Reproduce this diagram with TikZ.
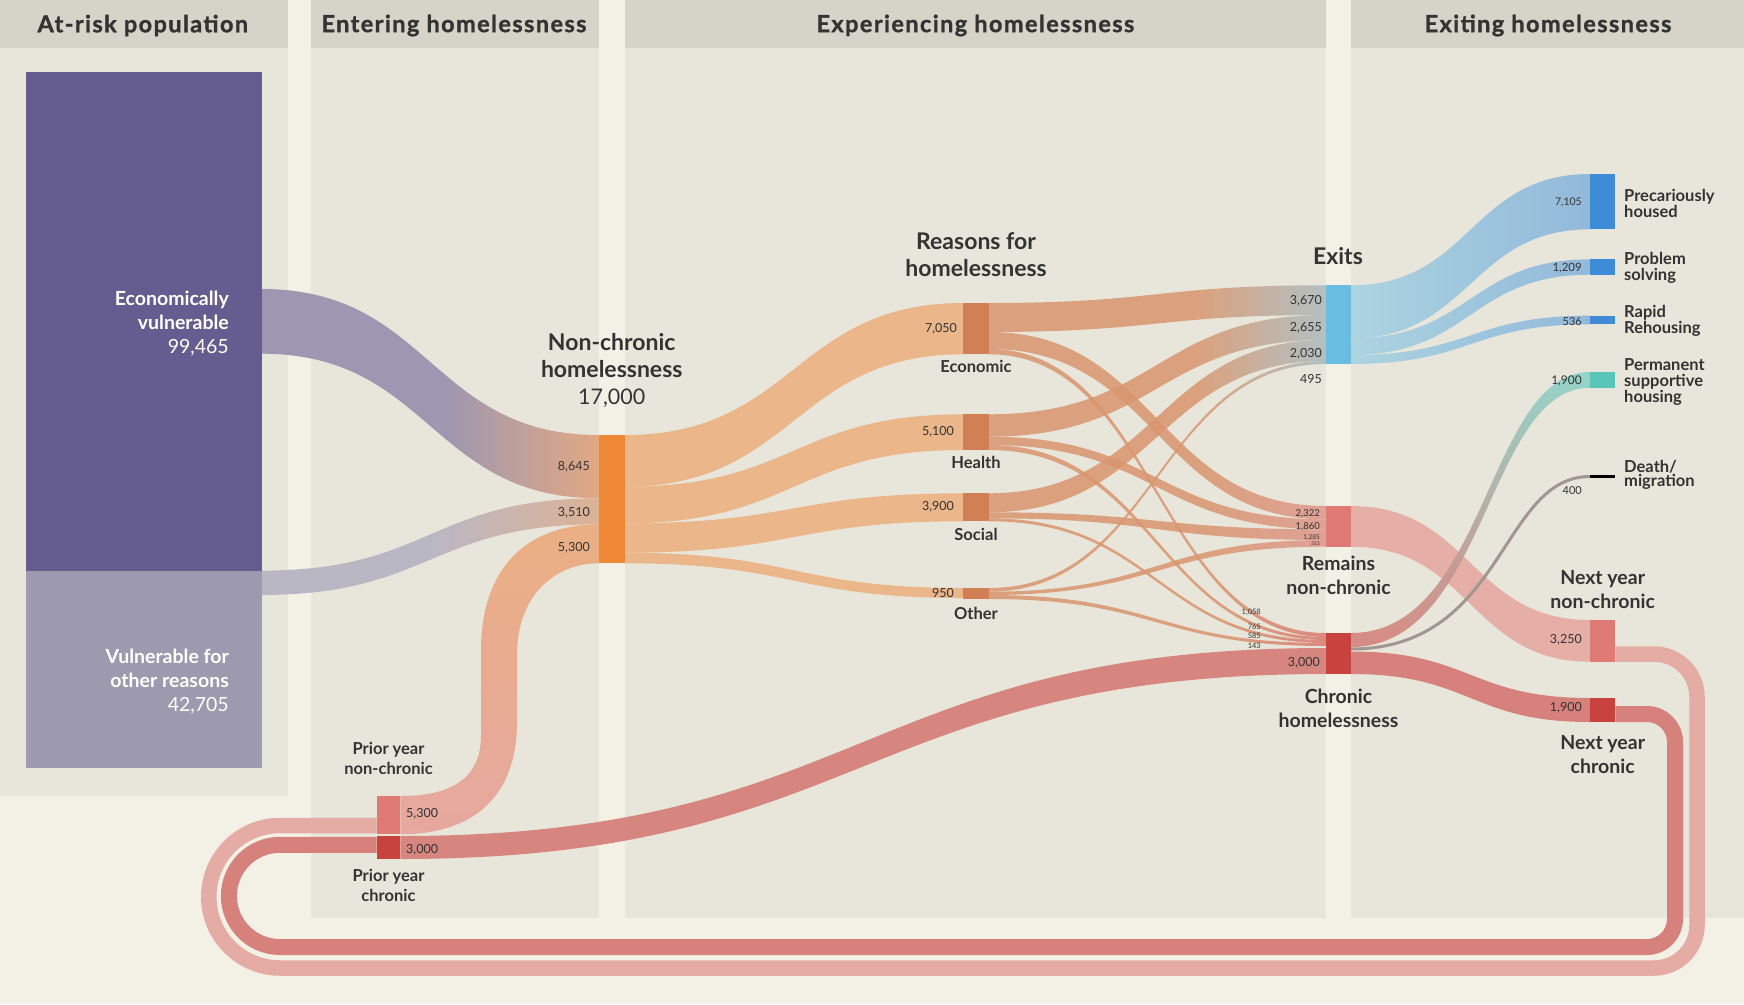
\documentclass[tikz,border=0pt]{standalone}
\usepackage{fontspec}
\setmainfont{Lato}
\newfontfamily\headfont[LetterSpace=6,BoldFeatures={FakeBold=1.2}]{Lato}
\usetikzlibrary{positioning}

\definecolor{cream}{HTML}{F3F1E6}
\definecolor{panelc}{HTML}{E8E6DA}
\definecolor{headc}{HTML}{D6D4C8}
\definecolor{txt}{HTML}{333333}
\definecolor{econbox}{HTML}{655D8F}
\definecolor{otherbox}{HTML}{9D9AAF}
\definecolor{vulflow}{HTML}{9D97B1}
\definecolor{vulend}{HTML}{E2A882}
\definecolor{othflow}{HTML}{BAB7C5}
\definecolor{othend}{HTML}{DCB294}
\definecolor{ncbar}{HTML}{EF8935}
\definecolor{ncflow}{HTML}{EAB68A}
\definecolor{priortop}{HTML}{EBAF84}
\definecolor{priorflow}{HTML}{E6A89F}
\definecolor{reasonbar}{HTML}{D17F55}
\definecolor{tanflow}{HTML}{D9966F}
\definecolor{exitgrey}{HTML}{A9BABE}
\definecolor{remainend}{HTML}{DF968B}
\definecolor{chronend}{HTML}{D97A71}
\definecolor{exitbar}{HTML}{69BDE0}
\definecolor{exitflowa}{HTML}{A9D3E1}
\definecolor{exitflowb}{HTML}{8EB7DB}
\definecolor{destbar}{HTML}{3E8BD8}
\definecolor{pshbar}{HTML}{5AC6B9}
\definecolor{pshflow}{HTML}{8CD3C7}
\definecolor{remainbar}{HTML}{DF7B74}
\definecolor{lightloop}{HTML}{E5A9A2}
\definecolor{chronbar}{HTML}{C8433E}
\definecolor{darkloop}{HTML}{D6817B}
\definecolor{deathline}{HTML}{A19692}

% colour change kept to the last part of a band
\pgfdeclarehorizontalshading{tanexit}{100bp}{color(0bp)=(tanflow); color(25bp)=(tanflow); color(56bp)=(tanflow); color(75bp)=(exitgrey); color(100bp)=(exitgrey)}
\pgfdeclarehorizontalshading{tanremain}{100bp}{color(0bp)=(tanflow); color(25bp)=(tanflow); color(58bp)=(tanflow); color(75bp)=(remainend); color(100bp)=(remainend)}
\pgfdeclarehorizontalshading{tanchron}{100bp}{color(0bp)=(tanflow); color(25bp)=(tanflow); color(58bp)=(tanflow); color(75bp)=(chronend); color(100bp)=(chronend)}
\pgfdeclarehorizontalshading{vulmix}{100bp}{color(0bp)=(vulflow); color(25bp)=(vulflow); color(52bp)=(vulflow); color(75bp)=(vulend); color(100bp)=(vulend)}
\pgfdeclarehorizontalshading{othmix}{100bp}{color(0bp)=(othflow); color(25bp)=(othflow); color(50bp)=(othflow); color(75bp)=(othend); color(100bp)=(othend)}

% band between two bars: [style]{x1}{top1}{bottom1}{x2}{top2}{bottom2}
\newcommand{\flowband}[7][]{%
  \path[#1] (#2,#3) .. controls ({(#2+#5)/2},#3) and ({(#2+#5)/2},#6) .. (#5,#6)
    -- (#5,#7) .. controls ({(#2+#5)/2},#7) and ({(#2+#5)/2},#4) .. (#2,#4) -- cycle;}

\begin{document}
\begin{tikzpicture}[x=1pt,y=-1pt,
  bar/.style={rectangle,inner sep=0pt,minimum width=25.4pt},
  numlbl/.style={text=txt,inner sep=0pt,font=\fontsize{12.5}{14}\selectfont},
  catlbl/.style={text=txt,inner sep=0pt,align=center,font=\bfseries\fontsize{16.5}{19.5}\selectfont},
  midlbl/.style={text=txt,inner sep=0pt,align=center,font=\bfseries\fontsize{19.5}{24}\selectfont},
  biglbl/.style={text=txt,inner sep=0pt,align=center,font=\fontsize{23}{27}\selectfont},
  sidelbl/.style={text=txt,inner sep=0pt,anchor=west,align=left,font=\bfseries\fontsize{16.5}{16}\selectfont},
  headlbl/.style={text=txt,inner sep=0pt,font=\headfont\bfseries\fontsize{23.5}{26}\selectfont},
  boxlbl/.style={text=white,inner sep=0pt,anchor=east,align=right,font=\fontsize{19.5}{24}\selectfont},
  toexit/.style={shade,shading=tanexit,fill opacity=0.85},
  toremain/.style={shade,shading=tanremain,fill opacity=0.85},
  tochron/.style={shade,shading=tanchron,fill opacity=0.85},
  exitband/.style={left color=exitflowa,right color=exitflowb,fill opacity=0.95}]

  \useasboundingbox (0,0) rectangle (1744,1004);
  \fill[cream] (0,0) rectangle (1744,1004);

  % Column panels and headers
  \foreach \xa/\xb/\yb in {0/288/796, 310.7/598.7/918, 625/1326/918, 1351/1744/918} {
    \fill[panelc] (\xa,48) rectangle (\xb,\yb);
    \fill[headc] (\xa,0) rectangle (\xb,48);
  }
  \foreach \x/\t [count=\i] in {142.8/At-risk population, 454/Entering homelessness, 975.4/Experiencing homelessness, 1548/Exiting homelessness}
    \node[headlbl] (head\i) at (\x,25.5) {\t};

  % Loops from next year back to prior year
  \draw[lightloop,line width=15.5pt,opacity=0.95] (1615.3,654) -- (1654,654) arc[start angle=-90,end angle=0,radius=43]
    -- (1697,925) arc[start angle=0,end angle=90,radius=43] -- (280,968)
    arc[start angle=90,end angle=270,radius=71.25] -- (376.7,825.5);
  \draw[darkloop,line width=16pt] (1615.3,714) -- (1647,714) arc[start angle=-90,end angle=0,radius=28]
    -- (1675,919) arc[start angle=0,end angle=90,radius=28] -- (280,947)
    arc[start angle=90,end angle=270,radius=51.1] -- (376.7,844.8);

  % Into non-chronic homelessness
  \flowband[shade,shading=vulmix]{261.5}{289}{353.7}{599}{435}{498.3}
  \flowband[shade,shading=othmix]{261.5}{570.6}{595}{599}{498.3}{524.3}
  \path[top color=priortop,bottom color=priorflow] (400.3,796) .. controls (455,796) and (481,776) .. (481,735)
    -- (481,650) .. controls (481,570) and (525,524.3) .. (599,524.3) -- (599,563.3)
    .. controls (555,563.3) and (517,595) .. (517,655) -- (517,722)
    .. controls (517,795) and (475,834.3) .. (400.3,834.3) -- cycle;

  % Prior year chronic into chronic homelessness
  \flowband[fill=darkloop,fill opacity=0.95]{400.3}{836}{859}{1326}{648}{674}

  % Non-chronic to reasons
  \foreach \ya/\yb/\yc/\yd in {435/486.7/303/354.3, 486.7/523.3/414.3/450, 523.3/552.7/493.3/521.3, 552.7/563.3/588/598}
    {\flowband[fill=ncflow]{625}{\ya}{\yb}{963.3}{\yc}{\yd}}

  % Reasons to exits, remains, chronic
  \foreach \ya/\yb/\yc/\yd in {303/332/285.3/315, 414.3/436.7/315/340, 493.3/512.3/340/361, 588/591.7/361/364}
    {\flowband[toexit]{988.7}{\ya}{\yb}{1326}{\yc}{\yd}}
  \foreach \ya/\yb/\yc/\yd in {332/349/506/519.3, 436.7/445/519.3/529.3, 512.3/518.3/529.3/540, 591.7/595/540/546.7}
    {\flowband[toremain]{988.7}{\ya}{\yb}{1326}{\yc}{\yd}}
  \foreach \ya/\yb/\yc/\yd in {349/354.3/633/637, 445/450/637/640, 518.3/521.3/640/643, 595/599/643/646}
    {\flowband[tochron]{988.7}{\ya}{\yb}{1326}{\yc}{\yd}}

  % Exits to destinations
  \foreach \ya/\yb/\yc/\yd in {285.3/338.3/174/229.3, 338.3/355/259.3/274.7, 355/364/315.7/324.3}
    {\flowband[exitband]{1351}{\ya}{\yb}{1590}{\yc}{\yd}}

  % Remains and chronic onwards
  \flowband[fill=lightloop,fill opacity=0.9]{1351}{506}{546.7}{1590}{620}{661.7}
  \path[top color=pshflow,bottom color=darkloop,fill opacity=0.9] (1351,633) .. controls (1487,633) and (1487,372) .. (1590,372)
    -- (1590,387.7) .. controls (1487,387.7) and (1487,647) .. (1351,647) -- cycle;
  \draw[deathline,line width=3pt] (1351,649) .. controls (1505,649) and (1500,476.5) .. (1590,476.5);
  \flowband[fill=darkloop]{1351}{651.5}{674}{1590}{698}{722}

  % Bars
  \node[bar,fill=econbox,minimum width=235.9pt,minimum height=498.3pt] (econvul) at (143.55,321.45) {};
  \node[bar,fill=otherbox,minimum width=235.9pt,minimum height=196.9pt] (othvul) at (143.55,669.05) {};
  \node[bar,fill=ncbar,minimum width=26pt,minimum height=128.3pt] (nonchronic) at (612,499.15) {};
  \node[bar,fill=reasonbar,minimum height=51.3pt,label={[catlbl,label distance=6pt]below:Economic},label={[numlbl,label distance=6pt]left:{7,050}}] (econ) at (976,328.65) {};
  \node[bar,fill=reasonbar,minimum height=35.7pt,label={[catlbl,label distance=6pt]below:Health},label={[numlbl,label distance=9pt]left:{5,100}}] (health) at (976,432.15) {};
  \node[bar,fill=reasonbar,minimum height=28pt,label={[catlbl,label distance=7pt]below:Social},label={[numlbl,label distance=9pt]left:{3,900}}] (social) at (976,507.3) {};
  \node[bar,fill=reasonbar,minimum height=11pt,label={[catlbl,label distance=8pt]below:Other},label={[numlbl,label distance=9pt]left:950}] (other) at (976,593.5) {};
  \node[bar,fill=exitbar,minimum width=25pt,minimum height=78.7pt] (exits) at (1338.5,324.65) {};
  \node[bar,fill=remainbar,minimum width=25pt,minimum height=40.7pt] (remains) at (1338.5,526.35) {};
  \node[bar,fill=chronbar,minimum width=25pt,minimum height=41pt] (chronic) at (1338.5,653.5) {};
  \node[bar,fill=destbar,minimum width=25.3pt,minimum height=55.3pt] (precarious) at (1602.65,201.65) {};
  \node[bar,fill=destbar,minimum width=25.3pt,minimum height=15.4pt] (problem) at (1602.65,267) {};
  \node[bar,fill=destbar,minimum width=25.3pt,minimum height=8.6pt] (rapid) at (1602.65,320) {};
  \node[bar,fill=pshbar,minimum width=25.3pt,minimum height=15.7pt] (psh) at (1602.65,379.85) {};
  \node[bar,fill=black,minimum width=25.3pt,minimum height=3pt] (death) at (1602.65,476.5) {};
  \node[bar,fill=remainbar,minimum width=25.3pt,minimum height=41.7pt] (nextnc) at (1602.65,640.85) {};
  \node[bar,fill=chronbar,minimum width=25.3pt,minimum height=24pt] (nextch) at (1602.65,710) {};
  \node[bar,fill=remainbar,minimum width=23.6pt,minimum height=38.3pt] (priornc) at (388.5,815.15) {};
  \node[bar,fill=chronbar,minimum width=23.6pt,minimum height=22.7pt] (priorch) at (388.5,847.35) {};

  % Labels
  \node[boxlbl] (econtxt) at (229,323.5) {\textbf{Economically}\\\textbf{vulnerable}\\99,465};
  \node[boxlbl] (othtxt) at (229,681.5) {\textbf{Vulnerable for}\\\textbf{other reasons}\\42,705};
  \node[biglbl] (nctxt) at (611.7,370) {\textbf{Non-chronic}\\\textbf{homelessness}\\{\fontsize{21.5}{27}\selectfont 17,000}};
  \node[biglbl] (reasontxt) at (976,254.5) {\textbf{Reasons for}\\\textbf{homelessness}};
  \node[biglbl] (exittxt) at (1338,256) {\textbf{Exits}};
  \node[midlbl,below=9pt of remains] (remaintxt) {Remains\\non-chronic};
  \node[midlbl,below=14.5pt of chronic] (chrontxt) {Chronic\\homelessness};
  \node[midlbl,above=10.5pt of nextnc] (nextnctxt) {Next year\\non-chronic};
  \node[midlbl,below=12.5pt of nextch] (nextchtxt) {Next year\\chronic};
  \node[catlbl,above=21pt of priornc] (priornctxt) {Prior year\\non-chronic};
  \node[catlbl,below=10.5pt of priorch] (priorchtxt) {Prior year\\chronic};

  \foreach \y/\t [count=\i] in {466.7/{8,645}, 513.3/{3,510}, 548.3/{5,300}}
    {\node[numlbl,anchor=east] (ncnum\i) at (590,\y) {\t};}
  \foreach \y/\t [count=\i] in {301/{3,670}, 328/{2,655}, 353.5/{2,030}, 379/495}
    {\node[numlbl,anchor=east] (exitnum\i) at (1322,\y) {\t};}
  \node[numlbl,anchor=east,font=\fontsize{9.5}{10}\selectfont] (remnum1) at (1320,514) {2,322};
  \node[numlbl,anchor=east,font=\fontsize{9.5}{10}\selectfont] (remnum2) at (1320,527) {1,860};
  \node[numlbl,anchor=east,font=\fontsize{6.5}{7}\selectfont] (remnum3) at (1320,537.5) {1,285};
  \node[numlbl,anchor=east,font=\fontsize{5}{6}\selectfont] (remnum4) at (1320,544) {313};
  \foreach \y/\t [count=\i] in {612.7/{1,058}, 626.7/765, 636/585, 646/143}
    {\node[numlbl,anchor=east,font=\fontsize{7.5}{8}\selectfont] (chnum\i) at (1261,\y) {\t};}
  \node[numlbl,anchor=east] (chnum) at (1320,663.3) {3,000};
  \node[numlbl,anchor=west] (pncnum) at (406,814) {5,300};
  \node[numlbl,anchor=west] (pchnum) at (406,850) {3,000};

  \node[numlbl,anchor=east,font=\fontsize{10.5}{12}\selectfont] (precnum) at (1582,202) {7,105};
  \node[numlbl,anchor=east,font=\fontsize{11.5}{12}\selectfont] (probnum) at (1582,267.7) {1,209};
  \node[numlbl,anchor=east,font=\fontsize{11}{12}\selectfont] (rapidnum) at (1582,322) {536};
  \node[numlbl,anchor=east,font=\fontsize{12}{12}\selectfont] (pshnum) at (1582,380.7) {1,900};
  \node[numlbl,anchor=east,font=\fontsize{11}{12}\selectfont] (deathnum) at (1582,491) {400};
  \node[numlbl,anchor=east] (nextncnum) at (1582,640) {3,250};
  \node[numlbl,anchor=east] (nextchnum) at (1582,707.7) {1,900};

  \node[sidelbl] (prectxt) at (1624,203) {Precariously\\housed};
  \node[sidelbl] (probtxt) at (1624,267.5) {Problem\\solving};
  \node[sidelbl] (rapidtxt) at (1624,320.7) {Rapid\\Rehousing};
  \node[sidelbl] (pshtxt) at (1624,381.7) {Permanent\\supportive\\housing};
  \node[sidelbl,font=\bfseries\fontsize{16.5}{12.7}\selectfont] (deathtxt) at (1624,475.3) {Death/\\migration};
\end{tikzpicture}
\end{document}
